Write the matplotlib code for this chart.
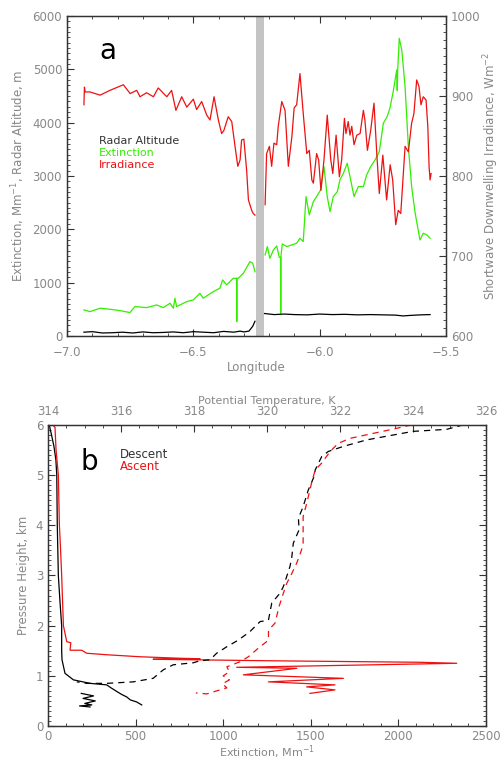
import numpy as np
import matplotlib
matplotlib.use("Agg")
import matplotlib.pyplot as plt
from matplotlib.ticker import MultipleLocator, FuncFormatter

# ---- panel a: values ----
irr_lon = [-6.933, -6.931, -6.928, -6.909, -6.869, -6.830, -6.777, -6.750, -6.724, -6.711,
           -6.685, -6.658, -6.639, -6.605, -6.586, -6.569, -6.546, -6.526, -6.500, -6.487,
           -6.467, -6.447, -6.434, -6.418, -6.401, -6.388, -6.379, -6.362, -6.348, -6.335,
           -6.324, -6.315, -6.309, -6.300, -6.289, -6.282, -6.269, -6.263, -6.256,
           np.nan,
           -6.216, -6.210, -6.199, -6.190, -6.181, -6.170, -6.164, -6.150, -6.137, -6.124,
           -6.110, -6.101, -6.091, -6.078, -6.065, -6.051, -6.041, -6.031, -6.025, -6.012,
           -6.004, -5.995, -5.983, -5.970, -5.956, -5.948, -5.935, -5.922, -5.913, -5.902,
           -5.896, -5.887, -5.880, -5.873, -5.864, -5.853, -5.840, -5.827, -5.821, -5.811,
           -5.798, -5.785, -5.774, -5.764, -5.750, -5.735, -5.721, -5.711, -5.699, -5.689,
           -5.679, -5.662, -5.649, -5.636, -5.627, -5.616, -5.607, -5.599, -5.590, -5.579,
           -5.572, -5.567, -5.563, -5.559]
irr_val = [889, 911, 905, 905, 901, 907, 914, 903, 907, 899,
           904, 899, 910, 899, 907, 882, 899, 886, 896, 883,
           893, 876, 870, 899, 870, 853, 857, 874, 868, 837,
           812, 820, 845, 846, 807, 770, 757, 753, 751,
           np.nan,
           764, 828, 837, 812, 841, 839, 862, 893, 882, 812,
           849, 885, 889, 928, 878, 828, 832, 795, 791, 828,
           820, 782, 820, 876, 820, 803, 851, 799, 820, 872,
           853, 868, 851, 862, 839, 851, 853, 882, 870, 832,
           857, 891, 828, 778, 826, 770, 814, 795, 739, 757,
           753, 837, 830, 866, 878, 920, 912, 889, 899, 895,
           862, 812, 795, 803]

ext_lon = [-6.933, -6.909, -6.869, -6.830, -6.790, -6.751, -6.731, -6.685, -6.645, -6.619,
           -6.592, -6.579, -6.573, -6.566, -6.526, -6.500, -6.474, -6.461, -6.421, -6.395,
           -6.384, -6.368, -6.342, -6.329, -6.328, -6.327, -6.322, -6.302, -6.276, -6.265,
           -6.256,
           np.nan,
           -6.216, -6.207, -6.197, -6.183, -6.170, -6.160, -6.155, -6.154, -6.153, -6.148,
           -6.130, -6.111, -6.091, -6.078, -6.065, -6.054, -6.041, -6.025, -6.012, -5.996,
           -5.983, -5.970, -5.959, -5.946, -5.930, -5.920, -5.906, -5.891, -5.880, -5.864,
           -5.847, -5.827, -5.814, -5.798, -5.781, -5.764, -5.748, -5.733, -5.722, -5.709,
           -5.695, -5.693, -5.691, -5.685, -5.675, -5.662, -5.649, -5.636, -5.622, -5.603,
           -5.590, -5.576, -5.563]
ext_val = [488, 456, 519, 500, 475, 438, 550, 531, 581, 531,
           613, 519, 706, 550, 644, 675, 800, 706, 831, 894,
           1050, 956, 1081, 1081, 268, 1081, 1081, 1175, 1394, 1363,
           1206,
           np.nan,
           1519, 1675, 1456, 1613, 1688, 1475, 1475, 425, 1500, 1725,
           1675, 1706, 1738, 1831, 1769, 2613, 2269, 2519, 2613, 2738,
           3175, 2613, 2331, 2613, 2706, 2925, 3050, 3238, 2988, 2613,
           2800, 2800, 3019, 3175, 3300, 3456, 3988, 4113, 4269, 4581,
           4988, 4600, 5000, 5581, 5363, 4675, 3550, 2800, 2300, 1800,
           1925, 1894, 1831]

alt_lon = [-6.933, -6.900, -6.860, -6.820, -6.780, -6.740, -6.700, -6.660, -6.620, -6.580,
           -6.540, -6.500, -6.460, -6.420, -6.380, -6.340, -6.315, -6.300, -6.280, -6.265,
           -6.256,
           np.nan,
           -6.218, -6.180, -6.140, -6.100, -6.050, -6.000, -5.950, -5.900, -5.850, -5.800,
           -5.750, -5.700, -5.670, -5.640, -5.600, -5.563]
alt_val = [70, 80, 55, 60, 70, 55, 75, 60, 65, 75,
           60, 80, 70, 60, 85, 70, 90, 75, 90, 180,
           275,
           np.nan,
           420, 400, 410, 400, 395, 410, 400, 405, 395, 400,
           395, 390, 375, 385, 395, 400]

gap_lon = (-6.252, -6.220)

# ---- panel b ----
desc_ext = [7, 20, 34, 45, 50, 53, 56, 59, 68, 78, 78, 80, 97, 145, 240, 335,
            360, 392, 420, 449, 470, 506, 535,
            np.nan,
            190, 260, 200, 270, 210, 250, 180, 240]
desc_ext_h = [6.0, 5.8, 5.57, 5.3, 5.0, 4.0, 3.5, 3.0, 2.5, 2.0, 1.5, 1.32, 1.05, 0.92, 0.85, 0.82,
              0.76, 0.69, 0.63, 0.58, 0.52, 0.48, 0.42,
              np.nan,
              0.65, 0.60, 0.55, 0.50, 0.45, 0.42, 0.40, 0.38]

asc_ext = [27, 40, 46, 59, 62, 65, 72, 78, 88, 107, 130, 126, 192, 221, 335, 525, 753, 868,
           600, 1267, 2123, 2333, 1077, 1420, 1115, 1686, 1258, 1638, 1476, 1638, 1495]
asc_ext_h = [6.0, 5.95, 5.5, 5.0, 4.5, 4.0, 3.5, 3.0, 2.0, 1.68, 1.66, 1.51, 1.51, 1.45, 1.42, 1.38, 1.35, 1.34,
             1.33, 1.30, 1.27, 1.25, 1.17, 1.15, 1.02, 0.95, 0.88, 0.82, 0.78, 0.72, 0.65]

desc_theta = [325.38, 324.92, 324.00, 322.73, 322.09, 321.68, 321.50, 321.32, 321.29, 321.13,
              320.99, 320.86, 320.88, 320.72, 320.68, 320.63, 320.54, 320.45, 320.36, 320.13,
              320.04, 319.81, 319.53, 319.21, 318.90, 318.62, 318.44, 318.16, 317.98, 317.43,
              317.16, 316.88, 316.34, 315.61, 315.06, 314.79]
desc_theta_h = [6.0, 5.91, 5.87, 5.70, 5.57, 5.47, 5.37, 5.10, 4.97, 4.70,
                4.37, 4.14, 3.91, 3.64, 3.37, 3.18, 2.98, 2.78, 2.65, 2.45,
                2.11, 2.08, 1.88, 1.71, 1.58, 1.45, 1.32, 1.30, 1.26, 1.22,
                1.12, 0.95, 0.88, 0.85, 0.85, 0.88]

asc_theta = [323.96, 323.55, 322.91, 322.27, 321.95, 321.73, 321.50, 321.32, 321.22, 321.09,
             320.99, 320.99, 320.99, 320.90, 320.81, 320.68, 320.54, 320.45, 320.33, 320.22,
             320.04, 320.04, 319.76, 319.49, 319.26, 318.90, 318.97, 318.80, 318.97, 318.78,
             318.90, 318.62, 318.35, 318.05]
asc_theta_h = [6.0, 5.93, 5.83, 5.73, 5.63, 5.47, 5.24, 5.10, 4.84, 4.44,
               4.17, 3.84, 3.61, 3.41, 3.24, 3.04, 2.84, 2.65, 2.38, 2.05,
               1.91, 1.71, 1.55, 1.38, 1.28, 1.18, 1.08, 1.00, 0.92, 0.84,
               0.76, 0.70, 0.64, 0.66]

RED = "#ee1111"
GREEN = "#33ee00"
GREY = "#888888"

plt.rcParams["font.family"] = "DejaVu Sans"
plt.rcParams["font.size"] = 8.5


def style_ticks(ax, **kw):
    ax.tick_params(which="both", direction="in", colors="#333333", labelcolor=GREY, **kw)
    ax.tick_params(which="major", length=5, width=0.8)
    ax.tick_params(which="minor", length=2.5, width=0.6)


fig = plt.figure(figsize=(5, 7.6), dpi=100)

# ---------- panel a ----------
ax1 = fig.add_axes([0.134, 0.558, 0.758, 0.421])
ax1.axvspan(*gap_lon, color="#c4c4c4", lw=0)
ax1.plot(ext_lon, ext_val, color=GREEN, lw=0.9)
ax1.plot(alt_lon, alt_val, color="black", lw=0.9)
ax1.set_xlim(-7.0, -5.5)
ax1.set_ylim(0, 6000)
ax1.xaxis.set_major_locator(MultipleLocator(0.5))
ax1.xaxis.set_minor_locator(MultipleLocator(0.1))
ax1.yaxis.set_major_locator(MultipleLocator(1000))
ax1.yaxis.set_minor_locator(MultipleLocator(100))
ax1.xaxis.set_major_formatter(FuncFormatter(lambda v, p: f"{v:.1f}".replace("-", "\u2212")))
style_ticks(ax1, top=True, right=False)
ax1.tick_params(axis="x", pad=7)
ax1.set_xlabel("Longitude", color=GREY, labelpad=2)
ax1.set_ylabel("Extinction, Mm$^{-1}$, Radar Altitude, m", color=GREY, labelpad=4)

ax1b = ax1.twinx()
ax1b.plot(irr_lon, irr_val, color=RED, lw=0.9)
ax1b.set_ylim(600, 1000)
ax1b.yaxis.set_major_locator(MultipleLocator(100))
ax1b.yaxis.set_minor_locator(MultipleLocator(10))
style_ticks(ax1b, right=True)
ax1b.set_ylabel("Shortwave Downwelling Irradiance, Wm$^{-2}$", color=GREY, labelpad=1)

ax1.text(0.085, 0.865, "a", transform=ax1.transAxes, fontsize=20, color="black")
ax1.text(0.085, 0.600, "Radar Altitude", transform=ax1.transAxes, color="#333333", fontsize=8)
ax1.text(0.085, 0.562, "Extinction", transform=ax1.transAxes, color=GREEN, fontsize=8)
ax1.text(0.085, 0.524, "Irradiance", transform=ax1.transAxes, color=RED, fontsize=8)

# ---------- panel b ----------
ax2 = fig.add_axes([0.096, 0.0447, 0.876, 0.3963])
ax2.plot(desc_ext, desc_ext_h, color="black", lw=0.9)
ax2.plot(asc_ext, asc_ext_h, color=RED, lw=0.9)
ax2.set_xlim(0, 2500)
ax2.set_ylim(0, 6)
ax2.xaxis.set_major_locator(MultipleLocator(500))
ax2.xaxis.set_minor_locator(MultipleLocator(100))
ax2.yaxis.set_major_locator(MultipleLocator(1))
ax2.yaxis.set_minor_locator(MultipleLocator(0.1))
style_ticks(ax2, right=True, top=False)
ax2.tick_params(axis="x", pad=3)
ax2.set_xlabel("Extinction, Mm$^{-1}$", color=GREY, labelpad=0, fontsize=8)
ax2.set_ylabel("Pressure Height, km", color=GREY, labelpad=4)

ax2t = ax2.twiny()
ax2t.plot(desc_theta, desc_theta_h, color="black", lw=0.9, ls=(0, (5, 4)))
ax2t.plot(asc_theta, asc_theta_h, color=RED, lw=0.9, ls=(0, (5, 4)))
ax2t.set_xlim(314, 326)
ax2t.xaxis.set_major_locator(MultipleLocator(2))
ax2t.xaxis.set_minor_locator(MultipleLocator(0.5))
style_ticks(ax2t, top=True)
ax2t.tick_params(axis="x", pad=5)
ax2t.set_xlabel("Potential Temperature, K", color=GREY, labelpad=1, fontsize=8)

ax2.text(0.075, 0.85, "b", transform=ax2.transAxes, fontsize=20, color="black")
ax2.text(0.165, 0.89, "Descent", transform=ax2.transAxes, color="#333333")
ax2.text(0.165, 0.85, "Ascent", transform=ax2.transAxes, color=RED)

for a in (ax1, ax1b, ax2, ax2t):
    for s in a.spines.values():
        s.set_color("#333333")
        s.set_linewidth(0.9)

fig.savefig("out.png", dpi=100)
